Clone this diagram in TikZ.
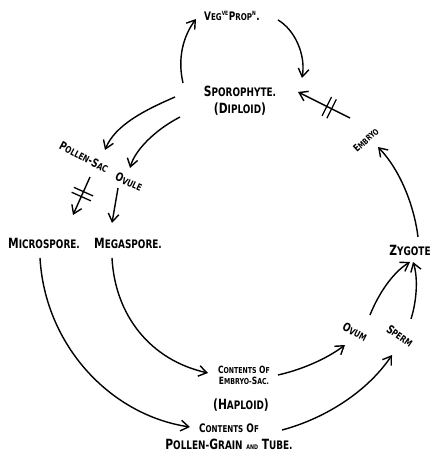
\documentclass[tikz,border=0pt]{standalone}
\usepackage{fontspec}
\usepackage{relsize}
\usepackage{tikz}
\usetikzlibrary{arrows.meta,decorations.markings}
\newfontfamily\handfont{DejaVu Sans}[FakeStretch=0.76]
\newcommand{\hc}[2]{#1{\relscale{0.8}#2}}
\newcommand{\supsc}[1]{\textsuperscript{\relscale{0.7}#1}}
\tikzset{
  lbl/.style={font=\handfont\bfseries\fontsize{12}{14.5}\selectfont,
              inner sep=1pt,align=center},
  midlbl/.style={lbl,font=\handfont\bfseries\fontsize{10}{12}\selectfont},
  smalllbl/.style={lbl,font=\handfont\bfseries\fontsize{8.5}{9.5}\selectfont},
  cyclearr/.style={-{Straight Barb[length=2.4mm,width=3.2mm]},line width=1.2pt},
  cutbars/.style={postaction={decorate,decoration={markings,
      mark=at position #1 with {\draw[-,line width=1.1pt]
        (-2.3pt,-9pt) -- (-2.3pt,9pt) (2.3pt,-9pt) -- (2.3pt,9pt);}}}}
}
\begin{document}
\begin{tikzpicture}[x=0.03cm,y=0.03cm]
  \useasboundingbox (0,0) rectangle (439,455);

  % labels
  \node[midlbl] (veg) at (232,439) {\hc{V}{EG}\supsc{VE}\hc{P}{ROP}\supsc{N}.};
  \node[lbl] (spor) at (240,354) {\hc{S}{POROPHYTE.}\\(\hc{D}{IPLOID})};
  \node[midlbl,rotate=-28] (psac) at (84,298) {\hc{P}{OLLEN}-\hc{S}{AC}};
  \node[midlbl,rotate=-25] (ovule) at (129,273) {\hc{O}{VULE}};
  \node[lbl] (micro) at (44,212) {\hc{M}{ICROSPORE.}};
  \node[lbl] (mega) at (128,212) {\hc{M}{EGASPORE.}};
  \node[smalllbl,rotate=42] (embryo) at (366,315) {\hc{E}{MBRYO}};
  \node[lbl] (zyg) at (410,205) {\hc{Z}{YGOTE}};
  \node[midlbl,rotate=-28] (ovum) at (355,123) {\hc{O}{VUM}};
  \node[midlbl,rotate=-35] (sperm) at (400,119) {\hc{S}{PERM}};
  \node[smalllbl] (esac) at (244,80) {\hc{C}{ONTENTS} \hc{O}{F}\\\hc{E}{MBRYO-}\hc{S}{AC.}};
  \node[lbl] (hapl) at (241,50) {(\hc{H}{APLOID})};
  \node[lbl] (pgrain) at (229,18)
    {{\relscale{0.8}\hc{C}{ONTENTS} \hc{O}{F}}\\\hc{P}{OLLEN-}\hc{G}{RAIN} {\relscale{0.45}AND} \hc{T}{UBE.}};

  % sporophyte and vegetative propagation
  \draw[cyclearr] ([shift={(-57,18)}]spor.center)
    .. controls (177,398) and (184,420) .. ([shift={(-36,-3)}]veg.center);
  \draw[cyclearr] ([shift={(46,-4)}]veg.center)
    .. controls (295,425) and (306,400) .. ([shift={(62,23)}]spor.center);

  % sporophyte to spores
  \draw[cyclearr] ([shift={(-65,4)}]spor.center)
    .. controls (145,345) and (115,330) .. ([shift={(21,7)}]psac.center);
  \draw[cyclearr] ([shift={(-60,-16)}]spor.center)
    .. controls (155,325) and (135,305) .. ([shift={(1,14)}]ovule.center);
  \draw[cyclearr,cutbars=0.45] ([shift={(6,-20)}]psac.center) -- ([shift={(29,28)}]micro.center);
  \draw[cyclearr] ([shift={(-11,-6)}]ovule.center) -- ([shift={(-16,20)}]mega.center);

  % spores to haploid contents
  \draw[cyclearr] ([shift={(-16,-15)}]mega.center)
    .. controls (115,140) and (150,95) .. ([shift={(-36,2)}]esac.center);
  \draw[cyclearr] ([shift={(-4,-15)}]micro.center)
    .. controls (45,110) and (110,40) .. ([shift={(-39,10)}]pgrain.center);

  % gametes and fertilisation
  \draw[cyclearr] ([shift={(34,0)}]esac.center)
    .. controls (300,85) and (325,95) .. ([shift={(-10,-13)}]ovum.center);
  \draw[cyclearr] ([shift={(53,7)}]pgrain.center)
    .. controls (320,35) and (365,60) .. ([shift={(-8,-19)}]sperm.center);
  \draw[cyclearr] ([shift={(15,17)}]ovum.center)
    .. controls (378,160) and (392,182) .. ([shift={(0,-12)}]zyg.center);
  \draw[cyclearr] ([shift={(11,17)}]sperm.center)
    .. controls (417,155) and (418,178) .. ([shift={(3,-12)}]zyg.center);

  % zygote back to sporophyte
  \draw[cyclearr] ([shift={(8,13)}]zyg.center)
    .. controls (414,250) and (400,285) .. ([shift={(12,-7)}]embryo.center);
  \draw[cyclearr,cutbars=0.4] ([shift={(-16,22)}]embryo.center) -- ([shift={(58,9)}]spor.center);
\end{tikzpicture}
\end{document}
